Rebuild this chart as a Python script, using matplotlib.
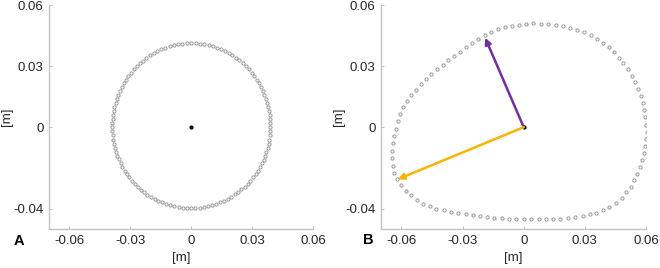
import numpy as np
import matplotlib
matplotlib.use('Agg')
import matplotlib.pyplot as plt

# panel A: radius of the contour [mm], one value per marker (3 deg apart, starting at +x, ccw)
a_radius_mm = [39.0, 39.0, 39.0, 39.1, 39.1, 39.2, 39.2, 39.3, 39.4, 39.5, 39.6, 39.7, 39.8, 39.9, 40.0, 40.2,
               40.3, 40.4, 40.5, 40.6, 40.7, 40.8, 40.9, 41.0, 41.1, 41.2, 41.2, 41.2, 41.3, 41.3, 41.3,
               41.3, 41.3, 41.2, 41.2, 41.1, 41.0, 40.9, 40.9, 40.8, 40.7, 40.6, 40.4, 40.3, 40.2, 40.1,
               40.0, 39.8, 39.7, 39.6, 39.5, 39.4, 39.3, 39.2, 39.1, 39.1, 39.0, 39.0, 38.9, 38.9, 38.9,
               38.9, 38.9, 38.9, 38.9, 39.0, 39.0, 39.0, 39.0, 39.0, 39.1, 39.1, 39.1, 39.2, 39.2, 39.3,
               39.3, 39.4, 39.4, 39.5, 39.5, 39.5, 39.6, 39.6, 39.6, 39.7, 39.7, 39.7, 39.8, 39.8, 39.8,
               39.8, 39.8, 39.7, 39.7, 39.7, 39.6, 39.6, 39.6, 39.5, 39.5, 39.4, 39.4, 39.3, 39.3, 39.3,
               39.2, 39.2, 39.2, 39.1, 39.1, 39.1, 39.1, 39.0, 39.0, 39.0, 39.0, 39.0, 39.0, 39.0]
a_angle_deg = np.arange(len(a_radius_mm)) * 3.0

# panel B: contour markers [mm] (clockwise from the purple arrow tip)
b_x_mm = [-19.2, -15.9, -12.8, -9.3, -5.9, -2.5, 1.1, 4.8, 8.5, 12.1, 15.7, 19.2, 22.8, 26.1, 29.5, 32.8,
          35.9, 38.9, 41.8, 44.4, 46.7, 48.9, 51.1, 53.0, 54.8, 56.2, 57.4, 58.4, 59.0, 59.7, 60.2, 60.3,
          60.0, 59.5, 59.0, 58.2, 57.0, 55.4, 53.9, 52.6, 50.3, 48.0, 45.2, 42.0, 39.0, 35.7, 32.3, 28.9,
          25.2, 21.6, 17.9, 14.4, 10.8, 7.4, 3.8, 0.0, -3.6, -7.0, -10.8, -14.6, -18.0, -21.5, -25.1,
          -28.5, -32.1, -35.7, -39.2, -42.8, -46.1, -49.3, -52.5, -55.4, -57.9, -60.2, -62.0, -63.4,
          -64.3, -64.8, -64.8, -64.3, -63.6, -62.6, -61.6, -60.5, -59.3, -57.4, -55.1, -52.8, -50.5,
          -48.0, -45.4, -42.6, -39.8, -36.9, -34.1, -31.3, -28.2, -25.4, -22.3]
b_y_mm = [45.2, 46.6, 48.0, 49.2, 49.8, 50.3, 50.8, 51.0, 50.8, 50.7, 50.2, 49.5, 48.7, 47.9, 46.6, 45.4,
          43.4, 41.5, 39.2, 36.7, 34.1, 31.5, 28.5, 25.2, 22.1, 18.7, 15.2, 11.8, 8.2, 4.8, 1.3, -2.3,
          -5.7, -9.2, -12.6, -16.1, -19.5, -22.8, -26.1, -29.2, -32.0, -34.8, -37.2, -39.0, -40.8, -42.0,
          -42.8, -43.6, -44.3, -44.8, -45.1, -45.1, -45.1, -45.1, -45.1, -45.1, -45.1, -44.9, -44.8,
          -44.6, -44.3, -43.8, -43.3, -42.8, -42.0, -41.5, -40.8, -40.0, -38.9, -37.5, -35.9, -33.4,
          -31.3, -28.5, -25.4, -22.5, -18.9, -15.2, -11.8, -8.0, -4.4, -0.7, 3.1, 6.6, 9.8, 13.0, 15.7,
          18.4, 21.1, 23.8, 26.1, 28.5, 30.7, 32.8, 34.8, 36.9, 39.2, 41.1, 43.3]

# arrow tips [m]
purple_tip = (-0.0189, 0.0439)
yellow_tip = (-0.0618, -0.0256)

x_ticks = [-0.06, -0.03, 0, 0.03, 0.06]
y_ticks = [-0.04, 0, 0.03, 0.06]
tick_labels_x = ['-0.06', '-0.03', '0', '0.03', '0.06']
tick_labels_y = ['-0.04', '0', '0.03', '0.06']

plt.rcParams['font.family'] = ['Liberation Sans', 'DejaVu Sans']

W, H = 660, 268
fig = plt.figure(figsize=(W / 100, H / 100), dpi=100)

spine_col = '#c4c4c4'
txt_col = '#262626'
marker_col = '#9a9a9a'
fs = 9.5


def setup(ax):
    ax.set_xlim(-0.07, 0.06)
    ax.set_ylim(-0.05, 0.06)
    for s in ['top', 'right']:
        ax.spines[s].set_visible(False)
    for s in ['left', 'bottom']:
        ax.spines[s].set_color(spine_col)
        ax.spines[s].set_linewidth(1.0)
    ax.set_xticks(x_ticks)
    ax.set_xticklabels(tick_labels_x)
    ax.set_yticks(y_ticks)
    ax.set_yticklabels(tick_labels_y)
    ax.tick_params(direction='in', length=2.5, width=0.8, color=spine_col,
                   labelsize=fs, labelcolor=txt_col, pad=4)
    ax.set_xlabel('[m]', fontsize=fs, color=txt_col, labelpad=4)
    ax.set_ylabel('[m]', fontsize=fs, color=txt_col)
    ax.yaxis.set_label_coords(-0.137, 0.5)


axA = fig.add_axes([49 / W, 1 - 229 / H, 264 / W, 224 / H])
axB = fig.add_axes([381 / W, 1 - 229 / H, 265 / W, 224 / H])

# panel A
r = np.array(a_radius_mm) / 1000.0
th = np.deg2rad(a_angle_deg)
axA.plot(r * np.cos(th), r * np.sin(th), 'o', ms=2.3, mfc='none', mec=marker_col, mew=0.7)
axA.plot(0, 0, 'o', ms=2.0, color='black')
setup(axA)

# panel B
bx = np.array(b_x_mm) / 1000.0
by = np.array(b_y_mm) / 1000.0
axB.plot(bx, by, 'o', ms=2.3, mfc='none', mec=marker_col, mew=0.7)
axB.plot(0, 0, 'o', ms=2.0, color='black')
axB.annotate('', xy=purple_tip, xytext=(0, 0),
             arrowprops=dict(arrowstyle='-|>', color='#7030A0', lw=1.8, mutation_scale=9,
                             shrinkA=0, shrinkB=0))
axB.annotate('', xy=yellow_tip, xytext=(0, 0),
             arrowprops=dict(arrowstyle='-|>', color='#F7B500', lw=1.8, mutation_scale=9,
                             shrinkA=0, shrinkB=0))
setup(axB)

fig.text(19 / W, 1 - 241 / H, 'A', fontsize=10.5, fontweight='bold', ha='center', va='center')
fig.text(368 / W, 1 - 240 / H, 'B', fontsize=10.5, fontweight='bold', ha='center', va='center')

fig.savefig('out.png', dpi=100)
